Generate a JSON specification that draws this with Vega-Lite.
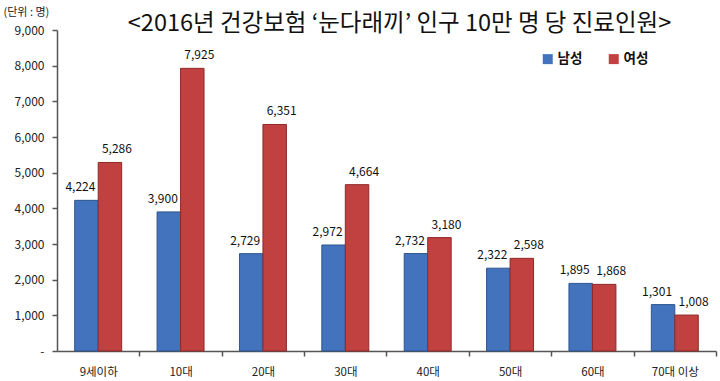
{
  "$schema": "https://vega.github.io/schema/vega-lite/v6.json",
  "width": 659,
  "height": 321,
  "autosize": {"type": "none"},
  "padding": {"left": 57, "top": 30, "right": 4, "bottom": 30},
  "background": "white",
  "config": {
    "view": {"stroke": null},
    "font": "Noto Sans CJK KR"
  },
  "title": {
    "text": "<2016년 건강보험 ‘눈다래끼’ 인구 10만 명 당 진료인원>",
    "fontSize": 23.5,
    "fontWeight": "normal",
    "color": "#111111",
    "anchor": "middle",
    "dx": 13,
    "offset": -29,
    "font": "Noto Sans CJK KR"
  },
  "data": {
    "values": [
      {"age": "9세이하", "sex": "남성", "value": 4224},
      {"age": "9세이하", "sex": "여성", "value": 5286},
      {"age": "10대", "sex": "남성", "value": 3900},
      {"age": "10대", "sex": "여성", "value": 7925},
      {"age": "20대", "sex": "남성", "value": 2729},
      {"age": "20대", "sex": "여성", "value": 6351},
      {"age": "30대", "sex": "남성", "value": 2972},
      {"age": "30대", "sex": "여성", "value": 4664},
      {"age": "40대", "sex": "남성", "value": 2732},
      {"age": "40대", "sex": "여성", "value": 3180},
      {"age": "50대", "sex": "남성", "value": 2322},
      {"age": "50대", "sex": "여성", "value": 2598},
      {"age": "60대", "sex": "남성", "value": 1895},
      {"age": "60대", "sex": "여성", "value": 1868},
      {"age": "70대 이상", "sex": "남성", "value": 1301},
      {"age": "70대 이상", "sex": "여성", "value": 1008}
    ]
  },
  "encoding": {
    "x": {
      "field": "age",
      "type": "nominal",
      "sort": null,
      "scale": {"paddingInner": 0.43, "paddingOuter": 0.215},
      "axis": {
        "title": null,
        "labelAngle": 0,
        "labelFontSize": 11.5,
        "labelColor": "#222222",
        "labelPadding": 10,
        "domainColor": "#555555",
        "domainWidth": 1.5,
        "tickColor": "#555555",
        "tickWidth": 1.5,
        "tickSize": 5,
        "bandPosition": 1,
        "tickOffset": 17.7,
        "labelOffset": -17.7
      }
    },
    "y": {
      "field": "value",
      "type": "quantitative",
      "scale": {"domain": [0, 9000]},
      "axis": {
        "title": "(단위 : 명)",
        "titleAngle": 0,
        "titleAlign": "left",
        "titleBaseline": "middle",
        "titleX": -54,
        "titleY": -18,
        "titleFontSize": 11,
        "titleFontWeight": "normal",
        "titleColor": "#222222",
        "values": [0, 1000, 2000, 3000, 4000, 5000, 6000, 7000, 8000, 9000],
        "labelExpr": "datum.value == 0 ? '-' : format(datum.value, ',')",
        "labelFontSize": 12,
        "labelColor": "#222222",
        "labelPadding": 8,
        "grid": false,
        "domainColor": "#555555",
        "domainWidth": 1.5,
        "tickColor": "#555555",
        "tickWidth": 1.5,
        "tickSize": 5
      }
    },
    "xOffset": {"field": "sex", "type": "nominal", "sort": ["남성", "여성"]}
  },
  "layer": [
    {
      "mark": {"type": "bar", "strokeWidth": 1},
      "encoding": {
        "color": {
          "field": "sex",
          "type": "nominal",
          "sort": ["남성", "여성"],
          "scale": {"domain": ["남성", "여성"], "range": ["#4373BC", "#C0413F"]},
          "legend": {
            "title": null,
            "orient": "none",
            "legendX": 484,
            "legendY": 22,
            "direction": "horizontal",
            "symbolType": "square",
            "symbolSize": 100,
            "symbolStrokeWidth": 0,
            "labelFontSize": 13.5,
            "labelFontWeight": "bold",
            "labelColor": "#111111",
            "columnPadding": 24,
            "labelOffset": 3
          }
        },
        "stroke": {
          "field": "sex",
          "type": "nominal",
          "scale": {"domain": ["남성", "여성"], "range": ["#2C5590", "#8E2A28"]},
          "legend": null
        }
      }
    },
    {
      "transform": [{"filter": "datum.sex == '남성'"}],
      "mark": {"type": "text", "dy": -13, "dx": -6, "fontSize": 12, "color": "#111111"},
      "encoding": {
        "text": {"field": "value", "type": "quantitative", "format": ","}
      }
    },
    {
      "transform": [{"filter": "datum.sex == '여성'"}],
      "mark": {"type": "text", "dy": -13, "dx": 7, "fontSize": 12, "color": "#111111"},
      "encoding": {
        "text": {"field": "value", "type": "quantitative", "format": ","}
      }
    }
  ]
}
